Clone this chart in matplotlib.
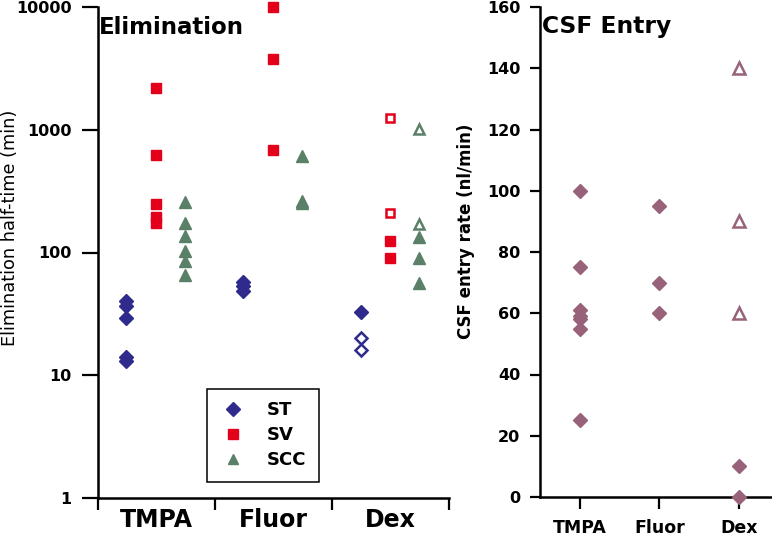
import matplotlib
matplotlib.use('Agg')
import matplotlib.pyplot as plt
from matplotlib.lines import Line2D

plt.rcParams['font.family'] = ['DejaVu Sans']

drugs = ['TMPA', 'Fluor', 'Dex']

# elimination half-time (min)
st_tmpa = [40, 37, 29, 14, 13]
st_fluor = [57, 53, 49]
st_dex = [33]
st_dex_open = [20, 16]
sv_tmpa = [2200, 620, 250, 195, 175]
sv_fluor = [10000, 3800, 680]
sv_dex = [125, 91]
sv_dex_open = [1250, 211]
scc_tmpa = [260, 173, 137, 103, 86, 66]
scc_fluor = [610, 265, 255]
scc_dex = [133, 91, 56]
scc_dex_open = [1015, 171]

# CSF entry rate (nl/min)
csf_tmpa = [100, 75, 61, 59, 58, 55, 25]
csf_fluor = [95, 70, 60]
csf_dex = [10, 0]
csf_dex_open = [140, 90, 60]

c_st = '#2e2b8c'
c_sv = '#e3001b'
c_scc = '#5b8068'
c_csf = '#98637a'

fig = plt.figure(figsize=(7.72, 5.37), dpi=100)
ax = fig.add_axes([97.5/772, 39/537, 351.5/772, 491/537])
ax2 = fig.add_axes([540/772, 40/537, 232/772, 490/537])

off = {'ST': -0.255, 'SV': 0.0, 'SCC': 0.245}

def pts(a, x, vals, mk, col, ms, filled=True):
    a.plot([x]*len(vals), vals, ls='none', marker=mk, ms=ms,
           mfc=col if filled else 'white', mec=col,
           mew=1.0 if filled else 1.8, clip_on=False, zorder=3)

groups = [
    (st_tmpa, st_fluor, st_dex, st_dex_open, 'ST', 'D', c_st, 7.4),
    (sv_tmpa, sv_fluor, sv_dex, sv_dex_open, 'SV', 's', c_sv, 7.4),
    (scc_tmpa, scc_fluor, scc_dex, scc_dex_open, 'SCC', '^', c_scc, 8),
]
for t, f, d, dopen, name, mk, col, ms in groups:
    pts(ax, 0 + off[name], t, mk, col, ms)
    pts(ax, 1 + off[name], f, mk, col, ms)
    pts(ax, 2 + off[name], d, mk, col, ms)
    pts(ax, 2 + off[name], dopen, mk, col, ms*0.85, filled=False)

ax.set_yscale('log')
ax.set_ylim(1, 10000)
ax.set_xlim(-0.5, 2.5)
ax.set_yticks([1, 10, 100, 1000, 10000])
ax.set_yticklabels(['1', '10', '100', '1000', '10000'], fontsize=11.5, fontweight='bold')
ax.yaxis.set_minor_locator(plt.NullLocator())
ax.set_xticks([-0.5, 0.5, 1.5, 2.5])
ax.set_xticklabels([])
ax.set_xticks([0, 1, 2], minor=True)
ax.set_xticklabels(drugs, minor=True, fontsize=17, fontweight='bold')
ax.tick_params(axis='x', which='minor', length=0, pad=7)
ax.tick_params(axis='x', which='major', length=8.6, width=1.6, direction='out')
ax.tick_params(axis='y', which='major', length=11.5, width=1.6, direction='out', pad=7)
ax.set_ylabel('Elimination half-time (min)', fontsize=12.8)
ax.yaxis.set_label_coords(-0.222, 0.55)
for s in ['top', 'right']:
    ax.spines[s].set_visible(False)
for s in ['left', 'bottom']:
    ax.spines[s].set_linewidth(1.8)
fig.text(99/772, 1 - 34/537, 'Elimination', fontsize=16.5, fontweight='bold', va='baseline')

handles = [
    Line2D([], [], ls='none', marker='D', ms=7, mfc=c_st, mec=c_st),
    Line2D([], [], ls='none', marker='s', ms=6.5, mfc=c_sv, mec=c_sv),
    Line2D([], [], ls='none', marker='^', ms=7.5, mfc=c_scc, mec=c_scc),
]
leg = ax.legend(handles, ['ST', 'SV', 'SCC'], loc='lower left',
                bbox_to_anchor=(0.3115, 0.0332), borderaxespad=0,
                prop={'size': 13, 'weight': 'bold'}, handlelength=1.5,
                handletextpad=1.14, borderpad=0.68, labelspacing=0.39,
                fancybox=False, framealpha=1, edgecolor='black')
leg.get_frame().set_linewidth(1.1)

# CSF entry
pts(ax2, 1, csf_tmpa, 'D', c_csf, 7.6)
pts(ax2, 2, csf_fluor, 'D', c_csf, 7.6)
pts(ax2, 3, csf_dex, 'D', c_csf, 7.6)
pts(ax2, 3, csf_dex_open, '^', c_csf, 9, filled=False)

ax2.set_ylim(0, 160)
ax2.set_xlim(0.505, 3.41)
ax2.set_yticks(range(0, 161, 20))
ax2.set_yticklabels([str(v) for v in range(0, 161, 20)], fontsize=11.5, fontweight='bold')
ax2.set_xticks([1, 2, 3])
ax2.set_xticklabels(drugs, fontsize=12.5, fontweight='bold')
ax2.tick_params(axis='x', length=8.6, width=1.6, pad=7)
ax2.tick_params(axis='y', length=7.2, width=1.6, pad=7)
ax2.set_ylabel('CSF entry rate (nl/min)', fontsize=12, fontweight='bold')
ax2.yaxis.set_label_coords(-0.28, 0.543)
for s in ['top', 'right']:
    ax2.spines[s].set_visible(False)
for s in ['left', 'bottom']:
    ax2.spines[s].set_linewidth(1.8)
fig.text(541.6/772, 1 - 32.5/537, 'CSF Entry', fontsize=16.8, fontweight='bold', va='baseline')

fig.savefig('out.png', dpi=100)
